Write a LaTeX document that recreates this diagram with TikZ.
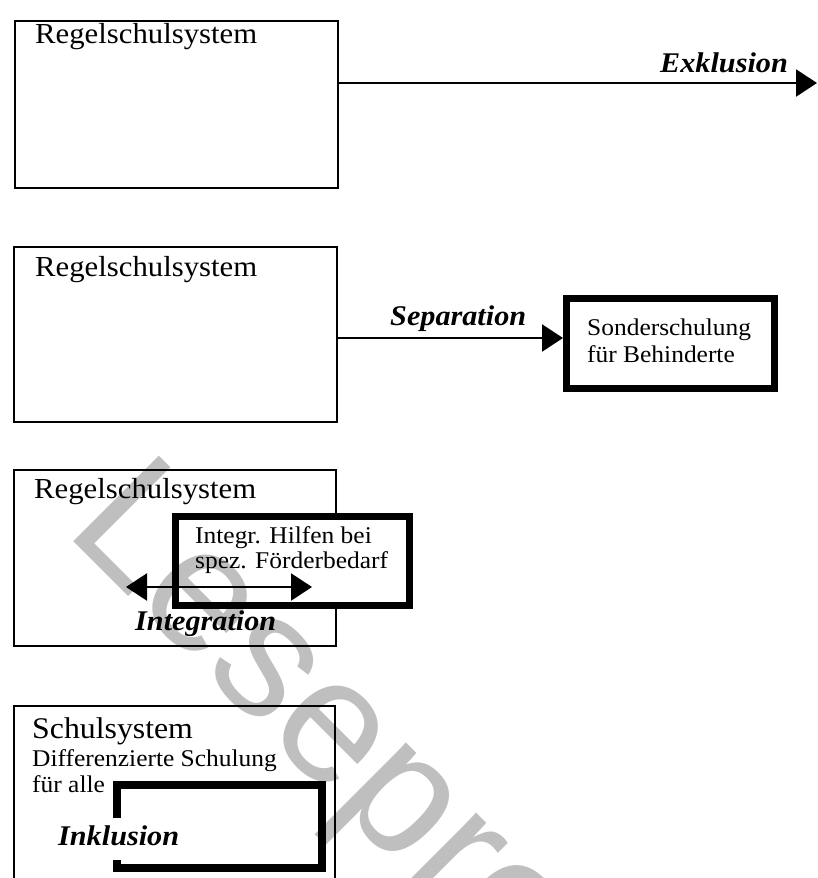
\documentclass[tikz,border=0pt]{standalone}
\usepackage{fontspec}
\setmainfont{Liberation Serif}[FakeStretch=1.06]
\newfontfamily\wmfont{Liberation Sans}
\usetikzlibrary{arrows.meta}
\definecolor{wmgray}{HTML}{BFBFBF}
\begin{document}
\begin{tikzpicture}[x=1pt,y=-1pt,
  sysbox/.style={draw, line width=2.4pt, inner sep=0pt},
  heavybox/.style={draw, line width=7pt, fill=white, inner sep=0pt},
  heavyline/.style={line width=7.5pt},
  flow/.style={line width=2.4pt, -{Triangle[length=21pt,width=27pt]}},
  twoway/.style={line width=2.4pt, {Triangle[length=21pt,width=27pt]}-{Triangle[length=21pt,width=27pt]}},
  txt/.style={anchor=base west, inner sep=0pt, font=\fontsize{29}{34}\selectfont},
  bigtxt/.style={anchor=base west, inner sep=0pt, font=\fontsize{30}{35}\selectfont},
  subtext/.style={anchor=base west, inner sep=0pt, font=\fontsize{24}{28}\selectfont},
  lbl/.style={anchor=base west, inner sep=0pt, font=\fontsize{28.5}{34}\selectfont\bfseries\itshape},
  wmark/.style={anchor=base west, inner sep=0pt, rotate=-45, text=wmgray,
    font=\wmfont\fontsize{176}{176}\selectfont},
]
\useasboundingbox (0,0) rectangle (817,878);
\clip (0,0) rectangle (817,878);

% --- Exklusion ---
\node[sysbox, minimum width=323pt, minimum height=167pt] (b1) at (176.5,104.5) {};
\node[txt] (t1) at (35,43) {Regelschulsystem};
\coordinate (ex) at (817,83);
\draw[flow] (b1.east |- ex) -- (ex);
\node[lbl] (l1) at (660,72) {Exklusion};

% --- Separation ---
\node[sysbox, minimum width=323pt, minimum height=175pt] (b2) at (175.5,334.5) {};
\node[txt] (t2) at (35,276) {Regelschulsystem};
\node[heavybox, minimum width=208pt, minimum height=90pt] (sb) at (670.5,343.5) {};
\node[subtext] (s1) at (587,335) {Sonderschulung};
\node[subtext] (s2) at (587,362) {für Behinderte};
\coordinate (sp) at (0,338);
\draw[flow] (b2.east |- sp) -- (sb.west |- sp);
\node[lbl] (l2) at (390,325) {Separation};

% --- Integration ---
\node[sysbox, minimum width=322pt, minimum height=176pt] (b3) at (175,558) {};
\node[txt] (t3) at (34,498) {Regelschulsystem};
\node[heavybox, minimum width=234pt, minimum height=89pt] (ib) at (292.5,561) {};
\node[subtext] (i1) at (195,543) {Integr. Hilfen bei};
\node[subtext] (i2) at (195,568) {spez. Förderbedarf};
\coordinate (il) at (126,587);
\coordinate (ir) at (312,587);
\draw[twoway] (il) -- (ir);
\node[lbl] (l3) at (135,630) {Integration};

% --- Inklusion ---
\node[sysbox, minimum width=321pt, minimum height=260pt] (b4) at (174.5,836) {};
\node[bigtxt] (t4) at (32,738) {Schulsystem};
\node[subtext] (d1) at (32,766) {Differenzierte Schulung};
\node[subtext] (d2) at (32,792) {für alle};
\draw[heavyline] (117,818) -- (117,785) -- (322,785) -- (322,868) -- (117,868) -- (117,860);
\node[lbl] (l4) at (58,845) {Inklusion};

% --- overlay lettering ---
\begin{scope}[blend mode=multiply]
\node[wmark] (wm) at (63,531) {Leseprobe};
\end{scope}
\end{tikzpicture}
\end{document}
